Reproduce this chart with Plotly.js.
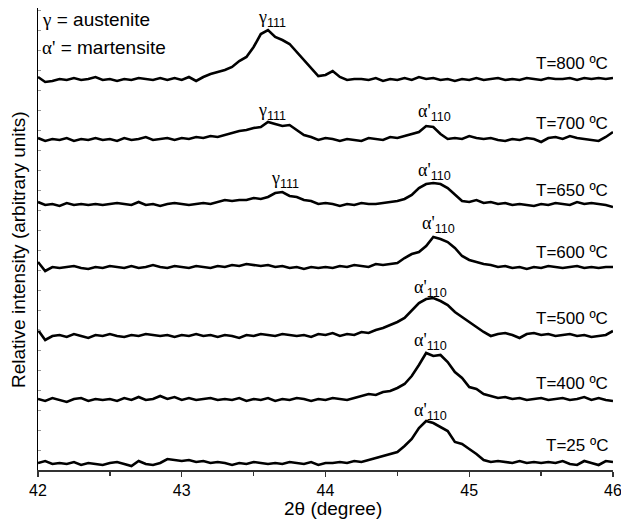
<!DOCTYPE html>
<html>
<head>
<meta charset="utf-8">
<script src="https://cdn.plot.ly/plotly-3.0.1.min.js"></script>
<style>html,body{margin:0;padding:0;background:#fff;}#chart{width:621px;height:519px;}</style>
</head>
<body>
<div id="chart"></div>
<script>
// 2-theta positions (degree)
const twoTheta = [42.00,42.05,42.10,42.15,42.20,42.25,42.30,42.35,42.40,42.45,42.50,42.55,42.60,42.65,42.70,42.75,42.80,42.85,42.90,42.95,
43.00,43.05,43.10,43.15,43.20,43.25,43.30,43.35,43.40,43.45,43.50,43.55,43.60,43.65,43.70,43.75,43.80,43.85,43.90,43.95,
44.00,44.05,44.10,44.15,44.20,44.25,44.30,44.35,44.40,44.45,44.50,44.55,44.60,44.65,44.70,44.75,44.80,44.85,44.90,44.95,
45.00,45.05,45.10,45.15,45.20,45.25,45.30,45.35,45.40,45.45,45.50,45.55,45.60,45.65,45.70,45.75,45.80,45.85,45.90,45.95,46.00];

// Relative intensities (arbitrary units) of each pattern
const I_800 = [3,-2,-1,1,0,2,0,1,3,0,1,-1,1,0,2,1,0,2,0,2,
0,3,-1,3,6,8,10,13,19,23,33,46,50,43,40,36,28,20,12,4,
5,9,3,0,1,1,0,2,-1,1,0,2,0,3,1,2,0,1,-1,1,
0,2,0,1,2,0,1,0,2,1,0,2,1,1,2,0,2,1,2,1,2];
const I_700 = [2,-1,1,0,2,-1,1,0,2,0,1,-1,2,0,1,3,0,1,2,0,
2,1,3,2,4,3,5,7,9,10,12,13,18,16,14,15,10,5,3,0,
2,1,-1,1,0,-1,2,1,0,3,2,4,6,8,14,13,6,1,2,1,
4,2,1,2,0,-1,1,0,2,1,-2,2,3,1,4,2,1,0,-1,3,8];
const I_650 = [3,0,1,-1,2,0,1,0,1,0,1,2,1,0,3,0,1,-1,1,2,
1,0,1,2,1,3,5,4,5,5,7,6,8,12,13,9,8,5,4,1,
2,1,-1,1,0,2,1,1,2,3,4,6,10,17,21,22,21,17,10,4,
3,5,2,3,1,2,0,1,0,-1,1,0,2,1,0,3,1,2,1,0,-2];
const I_600 = [6,-3,1,0,1,2,0,-1,1,0,2,1,0,2,0,1,3,1,0,2,
1,0,2,1,0,2,1,3,2,4,3,2,3,1,2,0,1,-1,1,0,
1,0,2,1,3,2,1,4,3,4,5,10,14,16,22,31,29,26,20,12,
8,6,4,3,1,2,0,1,-1,1,0,2,1,0,1,2,0,1,0,1,1];
const I_500 = [6,-4,0,1,-1,2,0,-2,1,0,2,0,-1,1,0,2,1,0,1,-1,
1,0,2,0,1,-1,1,0,-2,1,0,2,1,0,2,1,0,1,-1,2,
1,3,0,2,1,4,3,6,8,11,14,18,25,33,37,38,35,31,24,19,
14,9,4,0,2,3,1,-2,2,3,1,2,0,1,2,0,1,-1,0,1,5];
const I_400 = [1,-1,2,0,-2,1,2,-1,1,0,1,-1,2,0,3,0,1,4,1,3,
0,2,0,1,2,0,1,0,2,-1,1,0,2,-1,1,0,2,1,-1,1,
0,2,1,0,2,4,6,5,8,9,12,16,24,35,47,44,45,38,28,22,
13,11,6,4,2,3,1,2,0,1,2,0,1,2,0,1,3,0,2,0,-1];
const I_25 = [1,3,0,1,0,2,-1,1,0,-1,1,2,0,-2,3,0,-1,1,5,4,
3,4,2,3,1,2,1,-1,1,0,2,1,0,1,0,2,1,0,2,-1,
1,1,2,1,3,2,4,6,8,10,12,18,25,36,43,41,37,33,22,20,
15,10,4,2,3,2,1,3,1,2,1,2,1,3,0,-1,3,1,-1,3,2];

const patterns = [I_800, I_700, I_650, I_600, I_500, I_400, I_25];
const tLabels = ["T=800 ºC","T=700 ºC","T=650 ºC","T=600 ºC","T=500 ºC","T=400 ºC","T=25 ºC"];
const offsets = [390, 330, 265, 202, 134, 70, 6];
const xTitle = '2θ (degree)';
const yTitle = 'Relative intensity (arbitrary units)';

const traces = patterns.map((arr, k) => ({
  x: twoTheta,
  y: arr.map(v => v + offsets[k]),
  type: 'scatter',
  mode: 'lines',
  line: {color: '#000', width: 2.6},
  name: tLabels[k],
  hoverinfo: 'skip'
}));

// pixel helpers for annotation placement
const px2x = p => 42 + (p - 38) / 143.75;
const py2y = p => 470 - p;
const F = 'Arial, "Liberation Sans", sans-serif';
const G = '<span style="font-family:\'Liberation Serif\',\'Times New Roman\',serif">';
const gam = G + 'γ</span><sub>111</sub>';
const alp = G + 'α\'</span><sub>110</sub>';

const ann = [];
// T labels
const tY = [63, 123, 190, 252, 318, 383, 445];
tLabels.forEach((t, k) => ann.push({x: px2x(610), y: py2y(tY[k]), xref: 'x', yref: 'y', text: t, showarrow: false, xanchor: 'right', yanchor: 'middle', font: {family: F, size: 17, color: '#000'}}));
// peak labels
const gPos = [[272, 18], [272, 111], [285, 179]];
gPos.forEach(p => ann.push({x: px2x(p[0]), y: py2y(p[1]), xref: 'x', yref: 'y', text: gam, showarrow: false, xanchor: 'center', yanchor: 'middle', font: {family: F, size: 18, color: '#000'}}));
const aPos = [[434, 112], [434, 171], [438, 224], [430, 288], [430, 341], [430, 411]];
aPos.forEach(p => ann.push({x: px2x(p[0]), y: py2y(p[1]), xref: 'x', yref: 'y', text: alp, showarrow: false, xanchor: 'center', yanchor: 'middle', font: {family: F, size: 18, color: '#000'}}));
// legend text
ann.push({x: px2x(40), y: py2y(19), xref: 'x', yref: 'y', text: G + 'γ</span> = austenite', showarrow: false, xanchor: 'left', yanchor: 'middle', font: {family: F, size: 19, color: '#000'}});
ann.push({x: px2x(40), y: py2y(47), xref: 'x', yref: 'y', text: G + 'α\'</span> = martensite', showarrow: false, xanchor: 'left', yanchor: 'middle', font: {family: F, size: 19, color: '#000'}});
// axis titles
ann.push({x: 333, y: 508, xref: 'paper', yref: 'paper', text: xTitle, showarrow: false, xanchor: 'center', yanchor: 'middle', font: {family: F, size: 19, color: '#000'}});
ann.push({x: 18, y: 250, xref: 'paper', yref: 'paper', text: yTitle, showarrow: false, textangle: -90, xanchor: 'center', yanchor: 'middle', font: {family: F, size: 19, color: '#000'}});
// convert paper-pixel titles to paper fractions
const W = 621, H = 519, ml = 38, mr = 8, mt = 8, mb = 49;
ann.slice(-2).forEach(a => { a.x = (a.x - ml) / (W - ml - mr); a.y = (H - mb - a.y) / (H - mt - mb); });

const layout = {
  width: W, height: H,
  margin: {l: ml, r: mr, t: mt, b: mb},
  paper_bgcolor: '#fff', plot_bgcolor: '#fff',
  showlegend: false,
  font: {family: F, color: '#000'},
  xaxis: {
    range: [42, 46], tickvals: [42, 43, 44, 45, 46],
    ticks: 'outside', ticklen: 5, tickwidth: 1.3, tickcolor: '#333',
    minor: {tickvals: [42.5, 43.5, 44.5, 45.5], ticks: 'outside', ticklen: 4, tickcolor: '#333'},
    showline: true, linecolor: '#333', linewidth: 1.5, showgrid: false, zeroline: false,
    ticklabeloverflow: 'allow', automargin: false,
    tickfont: {family: F, size: 16, color: '#000'}
  },
  yaxis: {
    range: [0, 462], showticklabels: false, dtick: 20,
    ticks: 'inside', ticklen: 3, tickcolor: '#999', tickwidth: 1,
    showline: true, linecolor: '#000', linewidth: 1.5, showgrid: false, zeroline: false
  },
  annotations: ann
};

Plotly.newPlot('chart', traces, layout, {displayModeBar: false, staticPlot: true});
</script>
</body>
</html>
